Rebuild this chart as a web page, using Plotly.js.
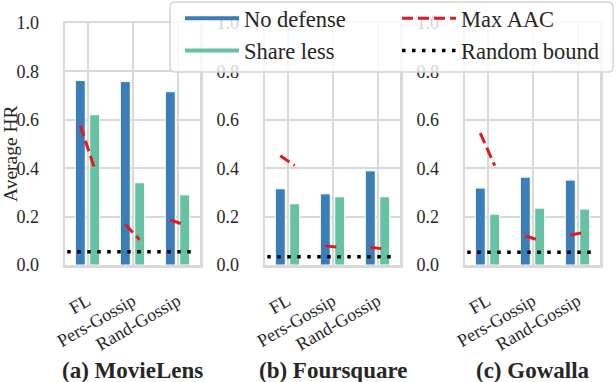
<!DOCTYPE html>
<html>
<head>
<meta charset="utf-8">
<script src="https://cdn.plot.ly/plotly-3.0.1.min.js"></script>
<style>
  html, body { margin: 0; padding: 0; background: #fff; }
  #chart { width: 616px; height: 382px; }
</style>
</head>
<body>
<div id="chart"></div>
<script>
// categories
const methods = ['FL', 'Pers-Gossip', 'Rand-Gossip'];
const panelTitles = ['(a) MovieLens', '(b) Foursquare', '(c) Gowalla'];

// MovieLens
const mlNoDefense = [0.762, 0.758, 0.716];
const mlShareLess = [0.621, 0.340, 0.290];
const mlAacNoDefense = [0.576, 0.168, 0.186];
const mlAacShareLess = [0.398, 0.104, 0.166];
const mlRandom = 0.055;

// Foursquare
const fsNoDefense = [0.315, 0.294, 0.389];
const fsShareLess = [0.253, 0.282, 0.282];
const fsAacNoDefense = [0.451, 0.079, 0.073];
const fsAacShareLess = [0.411, 0.073, 0.066];
const fsRandom = 0.034;

// Gowalla
const gwNoDefense = [0.318, 0.363, 0.351];
const gwShareLess = [0.210, 0.235, 0.231];
const gwAacNoDefense = [0.545, 0.121, 0.124];
const gwAacShareLess = [0.411, 0.101, 0.135];
const gwRandom = 0.053;

const panels = [
  { noDef: mlNoDefense, share: mlShareLess, aacNo: mlAacNoDefense, aacShare: mlAacShareLess, rand: mlRandom },
  { noDef: fsNoDefense, share: fsShareLess, aacNo: fsAacNoDefense, aacShare: fsAacShareLess, rand: fsRandom },
  { noDef: gwNoDefense, share: gwShareLess, aacNo: gwAacNoDefense, aacShare: gwAacShareLess, rand: gwRandom }
];

const BLUE = '#3a7db9', GREEN = '#66c2a5', RED = '#e41a1c';
const GRID = '#d9d9d9', TXT = '#262626';
const FONT = 'Liberation Serif';
const W = 616, H = 382;
const bargap = 0.36, bargroupgap = 0.31;
const half = (1 - bargap) / 4;  // 柱中心偏移
const xPix = [[65, 200], [265, 400], [465, 600]];
const yDom = [(H - 265) / H, (H - 23) / H];

const traces = [];
const xs = methods.map((m, i) => i);
panels.forEach((p, k) => {
  const xa = k === 0 ? 'x' : 'x' + (k + 1);
  const ya = k === 0 ? 'y' : 'y' + (k + 1);
  traces.push({
    type: 'bar', x: xs, y: p.noDef, xaxis: xa, yaxis: ya, showlegend: false,
    marker: { color: BLUE, line: { color: '#fff', width: 1 } }
  });
  traces.push({
    type: 'bar', x: xs, y: p.share, xaxis: xa, yaxis: ya, showlegend: false,
    marker: { color: GREEN, line: { color: '#fff', width: 1 } }
  });
  // Max AAC: 每组从No defense柱中心连到Share less柱中心
  const ax = [], ay = [];
  xs.forEach(i => {
    ax.push(i - half, i + half, null);
    ay.push(p.aacNo[i], p.aacShare[i], null);
  });
  traces.push({
    type: 'scatter', mode: 'lines', x: ax, y: ay, xaxis: xa, yaxis: ya, showlegend: false,
    line: { color: RED, width: 3, dash: '11px,5px' }
  });
  traces.push({
    type: 'scatter', mode: 'lines', x: [-0.45, xs.length - 0.65], y: [p.rand, p.rand],
    xaxis: xa, yaxis: ya, showlegend: false,
    line: { color: '#000', width: 3.5, dash: '3.5px,6.5px' }
  });
});

// 图例：两列，用线段表示
const legendItems = [
  { name: 'No defense', line: { color: BLUE, width: 4 }, legend: 'legend' },
  { name: 'Share less', line: { color: GREEN, width: 4 }, legend: 'legend' },
  { name: 'Max AAC', line: { color: RED, width: 3, dash: '11px,5px' }, legend: 'legend2' },
  { name: 'Random bound', line: { color: '#000', width: 3.5, dash: '3.5px,6.5px' }, legend: 'legend2' }
];
legendItems.forEach(it => {
  traces.push({
    type: 'scatter', mode: 'lines', x: [null], y: [null], name: it.name,
    line: it.line, legend: it.legend, showlegend: true
  });
});

const legendBase = {
  orientation: 'v', yanchor: 'top', xanchor: 'left', y: 1 + 3 / H,
  bgcolor: 'rgba(0,0,0,0)', borderwidth: 0,
  font: { family: FONT, size: 22.5, color: TXT },
  itemwidth: 54, tracegroupgap: 0
};

// 图例外框（半透明白底，圆角）
const bx0 = 170, bx1 = 613, by0 = 2, by1 = 72, rr = 5;
const px = v => v / W, py = v => 1 - v / H;
const framePath = [
  `M${px(bx0 + rr)},${py(by0)}`,
  `L${px(bx1 - rr)},${py(by0)}`,
  `Q${px(bx1)},${py(by0)} ${px(bx1)},${py(by0 + rr)}`,
  `L${px(bx1)},${py(by1 - rr)}`,
  `Q${px(bx1)},${py(by1)} ${px(bx1 - rr)},${py(by1)}`,
  `L${px(bx0 + rr)},${py(by1)}`,
  `Q${px(bx0)},${py(by1)} ${px(bx0)},${py(by1 - rr)}`,
  `L${px(bx0)},${py(by0 + rr)}`,
  `Q${px(bx0)},${py(by0)} ${px(bx0 + rr)},${py(by0)}`,
  'Z'
].join(' ');

const layout = {
  width: W, height: H,
  margin: { l: 0, r: 0, t: 0, b: 0, autoexpand: false },
  paper_bgcolor: '#fff', plot_bgcolor: '#fff',
  font: { family: FONT, color: TXT, size: 18 },
  barmode: 'group', bargap: bargap, bargroupgap: bargroupgap,
  showlegend: true,
  legend: Object.assign({}, legendBase, { x: 180 / W }),
  legend2: Object.assign({}, legendBase, { x: 397 / W }),
  annotations: [],
  shapes: [{
    type: 'path', xref: 'paper', yref: 'paper', layer: 'above', path: framePath,
    fillcolor: 'rgba(255,255,255,0.8)', line: { color: '#d4d4d4', width: 1.5 }
  }]
};

panels.forEach((p, k) => {
  const sx = k === 0 ? '' : String(k + 1);
  layout['xaxis' + sx] = {
    domain: [xPix[k][0] / W, xPix[k][1] / W],
    anchor: 'y' + sx,
    range: [-0.5, 2.5],
    tickvals: xs, ticktext: methods, tickangle: -30,
    tickfont: { family: FONT, size: 18, color: TXT },
    ticklabelstandoff: 16,
    showgrid: true, gridcolor: GRID, gridwidth: 2,
    showline: true, mirror: true, linecolor: GRID, linewidth: 2.5,
    zeroline: false, ticks: ''
  };
  layout['yaxis' + sx] = {
    domain: yDom,
    anchor: 'x' + sx,
    range: [0, 1.0],
    tickvals: [0, 0.2, 0.4, 0.6, 0.8, 1.0],
    ticktext: ['0.0', '0.2', '0.4', '0.6', '0.8', '1.0'],
    tickfont: { family: FONT, size: 18, color: TXT },
    ticklabelstandoff: 20,
    showgrid: true, gridcolor: GRID, gridwidth: 2,
    showline: true, mirror: true, linecolor: GRID, linewidth: 2.5,
    zeroline: false, ticks: ''
  };
  layout.annotations.push({
    text: '<b>' + panelTitles[k] + '</b>', xref: 'paper', yref: 'paper',
    x: (xPix[k][0] + xPix[k][1]) / 2 / W, y: (H - 370) / H, height: 24,
    xanchor: 'center', yanchor: 'middle', showarrow: false,
    font: { family: FONT, size: 23, color: TXT }
  });
});

layout.annotations.push({
  text: 'Average HR', xref: 'paper', yref: 'paper',
  x: 10 / W, y: (H - 154) / H, textangle: -90,
  xanchor: 'center', yanchor: 'middle', showarrow: false,
  font: { family: FONT, size: 19.5, color: TXT }
});

Plotly.newPlot('chart', traces, layout, { staticPlot: true });
</script>
</body>
</html>
